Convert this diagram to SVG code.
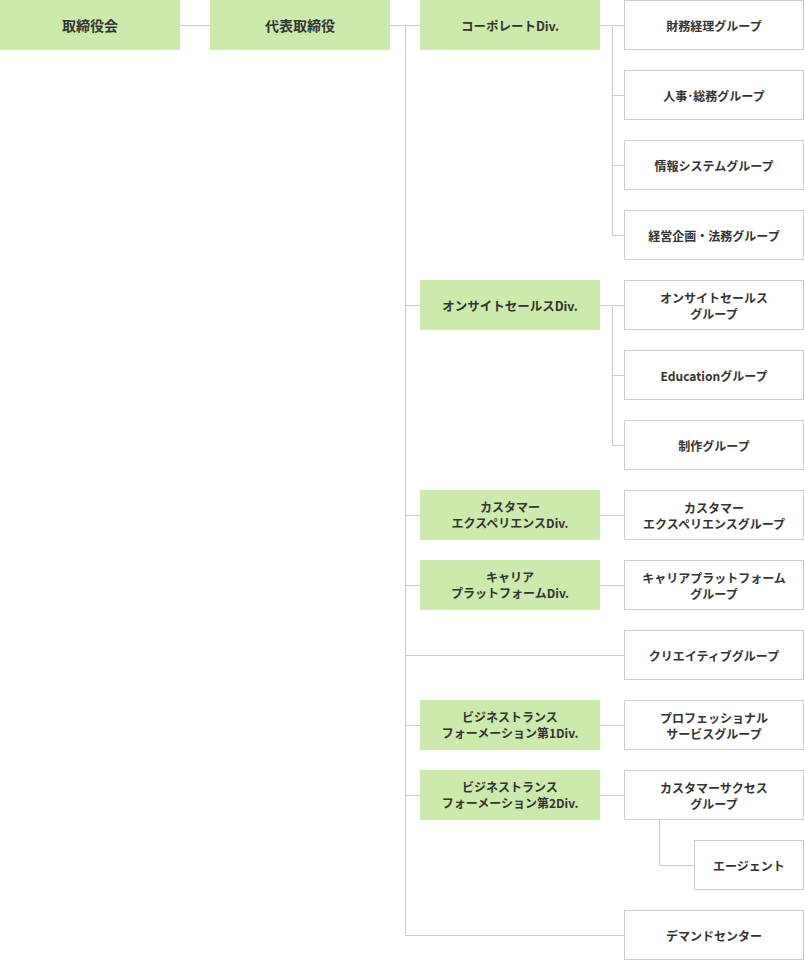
<svg xmlns="http://www.w3.org/2000/svg" width="804" height="960" viewBox="0 0 804 960">
<style>
.g{fill:#cdeaad}
.w{fill:#fff;stroke:#cccccc;stroke-width:1}
text{font-family:"Noto Sans CJK JP","Noto Sans",sans-serif;font-weight:bold;fill:#333;text-anchor:middle;dominant-baseline:central}
.t1{font-size:14px}
.t2{font-size:12.5px}
.t3{font-size:12px}
#connectors path{fill:none;stroke:#cccccc;stroke-width:1}
</style>
<rect width="804" height="960" fill="#fff"/>
<g id="connectors">
<path d="M180 25.5H210M390 25.5H420M405.5 25.5V935.5H624"/>
<path d="M405.5 305.5H420M405.5 515.5H420M405.5 585.5H420M405.5 725.5H420M405.5 795.5H420M405.5 655.5H624"/>
<path d="M600 25.5H624M612.5 25.5V235.5H624M612.5 95.5H624M612.5 165.5H624"/>
<path d="M600 305.5H624M612.5 305.5V445.5H624M612.5 375.5H624"/>
<path d="M600 515.5H624M600 585.5H624M600 725.5H624M600 795.5H624"/>
<path d="M659.5 820V865.5H694"/>
</g>
<g id="board"><rect class="g" x="0" y="0" width="180" height="50"/><text class="t1" x="90" y="25">取締役会</text></g>
<g id="ceo"><rect class="g" x="210" y="0" width="180" height="50"/><text class="t1" x="300" y="25">代表取締役</text></g>
<g id="div-corporate"><rect class="g" x="420" y="0" width="180" height="50"/><text class="t2" x="510" y="25">コーポレートDiv.</text></g>
<g id="div-onsite"><rect class="g" x="420" y="280" width="180" height="50"/><text class="t2" x="510" y="305">オンサイトセールスDiv.</text></g>
<g id="div-cx"><rect class="g" x="420" y="490" width="180" height="50"/><text class="t3" x="510" y="506.5">カスタマー</text><text class="t3" x="510" y="522.5">エクスペリエンスDiv.</text></g>
<g id="div-career"><rect class="g" x="420" y="560" width="180" height="50"/><text class="t3" x="510" y="576.5">キャリア</text><text class="t3" x="510" y="592.5">プラットフォームDiv.</text></g>
<g id="div-bt1"><rect class="g" x="420" y="700" width="180" height="50"/><text class="t3" x="510" y="716.5">ビジネストランス</text><text class="t3" x="510" y="732.5">フォーメーション第1Div.</text></g>
<g id="div-bt2"><rect class="g" x="420" y="770" width="180" height="50"/><text class="t3" x="510" y="786.5">ビジネストランス</text><text class="t3" x="510" y="802.5">フォーメーション第2Div.</text></g>
<g id="grp-finance"><rect class="w" x="624.5" y="0.5" width="179" height="49"/><text class="t3" x="714" y="25">財務経理グループ</text></g>
<g id="grp-hr"><rect class="w" x="624.5" y="70.5" width="179" height="49"/><text class="t3" x="714" y="95">人事･総務グループ</text></g>
<g id="grp-is"><rect class="w" x="624.5" y="140.5" width="179" height="49"/><text class="t3" x="714" y="165">情報システムグループ</text></g>
<g id="grp-plan"><rect class="w" x="624.5" y="210.5" width="179" height="49"/><text class="t3" x="714" y="235">経営企画・法務グループ</text></g>
<g id="grp-onsite"><rect class="w" x="624.5" y="280.5" width="179" height="49"/><text class="t3" x="714" y="297">オンサイトセールス</text><text class="t3" x="714" y="313">グループ</text></g>
<g id="grp-edu"><rect class="w" x="624.5" y="350.5" width="179" height="49"/><text class="t3" x="714" y="375">Educationグループ</text></g>
<g id="grp-prod"><rect class="w" x="624.5" y="420.5" width="179" height="49"/><text class="t3" x="714" y="445">制作グループ</text></g>
<g id="grp-cx"><rect class="w" x="624.5" y="490.5" width="179" height="49"/><text class="t3" x="714" y="507">カスタマー</text><text class="t3" x="714" y="523">エクスペリエンスグループ</text></g>
<g id="grp-career"><rect class="w" x="624.5" y="560.5" width="179" height="49"/><text class="t3" x="714" y="577">キャリアプラットフォーム</text><text class="t3" x="714" y="593">グループ</text></g>
<g id="grp-creative"><rect class="w" x="624.5" y="630.5" width="179" height="49"/><text class="t3" x="714" y="655">クリエイティブグループ</text></g>
<g id="grp-pro"><rect class="w" x="624.5" y="700.5" width="179" height="49"/><text class="t3" x="714" y="717">プロフェッショナル</text><text class="t3" x="714" y="733">サービスグループ</text></g>
<g id="grp-cs"><rect class="w" x="624.5" y="770.5" width="179" height="49"/><text class="t3" x="714" y="787">カスタマーサクセス</text><text class="t3" x="714" y="803">グループ</text></g>
<g id="grp-agent"><rect class="w" x="694.5" y="840.5" width="109" height="49"/><text class="t3" x="749" y="865">エージェント</text></g>
<g id="grp-demand"><rect class="w" x="624.5" y="910.5" width="179" height="49"/><text class="t3" x="714" y="935">デマンドセンター</text></g>
</svg>
